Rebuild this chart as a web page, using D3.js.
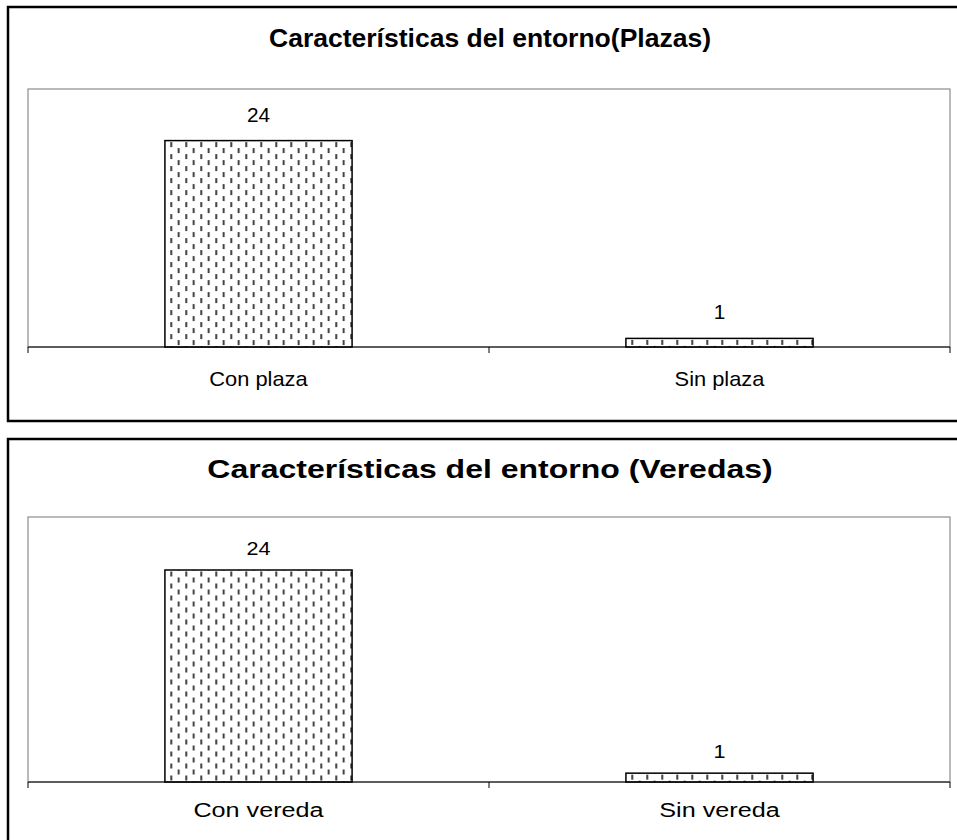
<!DOCTYPE html>
<html>
<head>
  <meta charset="utf-8" />
  <title>Características del entorno</title>
  <script src="https://cdnjs.cloudflare.com/ajax/libs/d3/7.8.5/d3.min.js"></script>
  <style>
    body { margin: 0; background: #fff; }
    text { font-family: Arial, "Liberation Sans", sans-serif; fill: #000; }
  </style>
</head>
<body>
  <div id="chartArea"></div>
  <script>
    // data
    var plazaTitle = 'Características del entorno(Plazas)';
    var plazaCategories = ['Con plaza', 'Sin plaza'];
    var plazaValues = [24, 1];

    var veredaTitle = 'Características del entorno (Veredas)';
    var veredaCategories = ['Con vereda', 'Sin vereda'];
    var veredaValues = [24, 1];

    var yMax = 30;

    var svg = d3.select('#chartArea')
      .append('svg')
      .attr('width', 957)
      .attr('height', 840);
    var defs = svg.append('defs');

    function stretchedText(g, x, y, str, size, sx, bold) {
      return g.append('text')
        .attr('transform', 'translate(' + x + ',' + y + ') scale(' + sx + ',1)')
        .attr('text-anchor', 'middle')
        .style('font-size', size + 'px')
        .style('font-weight', bold ? 'bold' : 'normal')
        .text(str);
    }

    function drawChart(id, title, cats, vals, o) {
      var g = svg.append('g');
      var left = 28, right = 950;

      // outer frame (runs off the right edge like the original)
      g.append('rect')
        .attr('x', 8).attr('y', o.frameTop)
        .attr('width', 1000).attr('height', o.frameBottom - o.frameTop)
        .attr('fill', 'none').attr('stroke', '#000').attr('stroke-width', 2.5);

      stretchedText(g, 490, o.titleY, title, o.titleSize, o.titleSx, true);

      var x = d3.scaleBand()
        .domain(cats)
        .range([left, right])
        .paddingInner(0.594)
        .paddingOuter(0.297);

      var y = d3.scaleLinear()
        .domain([0, yMax])
        .range([o.plotBottom, o.plotTop]);

      // plot area
      g.append('rect')
        .attr('x', left).attr('y', o.plotTop)
        .attr('width', right - left).attr('height', o.plotBottom - o.plotTop)
        .attr('fill', 'none').attr('stroke', '#8c8c8c').attr('stroke-width', 1.2);

      // patterns, one per bar so the dashes line up with the bar top
      cats.forEach(function (c, i) {
        var p = defs.append('pattern')
          .attr('id', id + '-pat' + i)
          .attr('patternUnits', 'userSpaceOnUse')
          .attr('x', x(c) + 5.5).attr('y', y(vals[i]) + 1.5)
          .attr('width', 15).attr('height', 12);
        p.append('rect').attr('width', 15).attr('height', 12).attr('fill', '#fff');
        p.append('rect').attr('x', 0).attr('y', 0).attr('width', 1.6).attr('height', 5).attr('fill', '#111');
        p.append('rect').attr('x', 7.5).attr('y', 6).attr('width', 1.6).attr('height', 5).attr('fill', '#111');
      });

      g.selectAll('.bar')
        .data(vals)
        .enter().append('rect')
        .attr('x', (d, i) => x(cats[i]))
        .attr('y', d => y(d))
        .attr('width', x.bandwidth())
        .attr('height', d => y(0) - y(d))
        .attr('fill', (d, i) => 'url(#' + id + '-pat' + i + ')')
        .attr('stroke', '#000')
        .attr('stroke-width', 1.5);

      // category axis
      g.append('line')
        .attr('x1', left).attr('x2', right)
        .attr('y1', y(0)).attr('y2', y(0))
        .attr('stroke', '#000').attr('stroke-width', 1.2);

      var step = x.step();
      var bounds = [left].concat(cats.map(c => x(c) + x.bandwidth() + step * 0.297));
      g.selectAll('.tick')
        .data(bounds)
        .enter().append('line')
        .attr('x1', d => d).attr('x2', d => d)
        .attr('y1', y(0)).attr('y2', y(0) + 6)
        .attr('stroke', '#000').attr('stroke-width', 1);

      vals.forEach(function (v, i) {
        var cx = x(cats[i]) + x.bandwidth() / 2;
        stretchedText(g, cx, y(v) - o.valueGap, v, o.valueSize, o.sx, false);
        stretchedText(g, cx, y(0) + o.labelGap, cats[i], o.labelSize, o.sx, false);
      });
    }

    drawChart('plaza', plazaTitle, plazaCategories, plazaValues, {
      frameTop: 7, frameBottom: 421, titleY: 47, titleSize: 26, titleSx: 1.02,
      plotTop: 89, plotBottom: 347,
      valueSize: 20, valueGap: 19, labelSize: 21, labelGap: 39, sx: 1.04
    });

    drawChart('vereda', veredaTitle, veredaCategories, veredaValues, {
      frameTop: 439, frameBottom: 900, titleY: 478, titleSize: 25, titleSx: 1.28,
      plotTop: 517, plotBottom: 782,
      valueSize: 18, valueGap: 15, labelSize: 21, labelGap: 35, sx: 1.2
    });
  </script>
</body>
</html>
